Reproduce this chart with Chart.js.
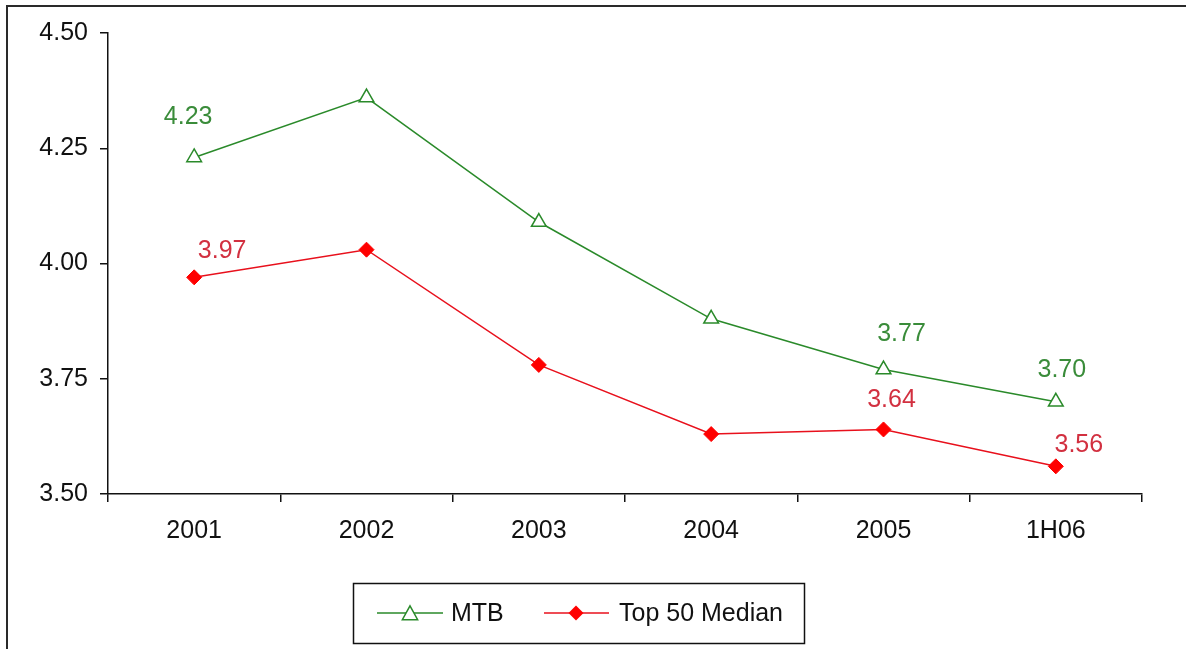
<!DOCTYPE html>
<html>
<head>
<meta charset="utf-8">
<script src="https://cdn.jsdelivr.net/npm/chart.js@4/dist/chart.umd.min.js"></script>
<style>
html,body{margin:0;padding:0;background:#fff;}
#wrap{position:relative;width:1186px;height:649px;}
</style>
</head>
<body>
<div id="wrap"><canvas id="c" width="1186" height="649"></canvas></div>
<script>
// ---- data ----
const categories = ['2001', '2002', '2003', '2004', '2005', '1H06'];
const mtbValues = [4.23, 4.36, 4.09, 3.88, 3.77, 3.70];
const top50Values = [3.97, 4.03, 3.78, 3.63, 3.64, 3.56];
const mtbLabels = ['4.23', null, null, null, '3.77', '3.70'];
const top50Labels = ['3.97', null, null, null, '3.64', '3.56'];
const yTicks = [3.50, 3.75, 4.00, 4.25, 4.50];
const seriesNames = ['MTB', 'Top 50 Median'];

// ---- styles ----
const FONT = "'Liberation Sans', Arial, sans-serif";
const FSIZE = 25;
const GREEN = '#2a8a2a';
const GREEN_TXT = '#3a8c3a';
const RED = '#e8101c';
const RED_TXT = '#d23040';
const AXIS = '#111';

const labelOffsets = [
  [[-6, -41], null, null, null, [18, -36], [6, -33]],
  [[28, -27], null, null, null, [8, -30], [23, -22]]
];

function drawTri(ctx, x, y, r, color) {
  ctx.save();
  ctx.beginPath();
  ctx.moveTo(x, y - r * 0.8);
  ctx.lineTo(x + r * 0.85, y + r * 0.75);
  ctx.lineTo(x - r * 0.85, y + r * 0.75);
  ctx.closePath();
  ctx.fillStyle = '#fff';
  ctx.fill();
  ctx.strokeStyle = color;
  ctx.lineWidth = 1.5;
  ctx.stroke();
  ctx.restore();
}
function drawDiamond(ctx, x, y, r, color) {
  ctx.save();
  ctx.beginPath();
  ctx.moveTo(x, y - r);
  ctx.lineTo(x + r, y);
  ctx.lineTo(x, y + r);
  ctx.lineTo(x - r, y);
  ctx.closePath();
  ctx.fillStyle = color;
  ctx.fill();
  ctx.restore();
}

const framePlugin = {
  id: 'frame',
  beforeDraw(chart) {
    const ctx = chart.ctx;
    ctx.save();
    ctx.fillStyle = '#fff';
    ctx.fillRect(0, 0, chart.width, chart.height);
    ctx.fillStyle = '#2a2a2a';
    ctx.fillRect(6, 5, chart.width - 6, 2);
    ctx.fillRect(6, 5, 2, chart.height - 5);
    ctx.restore();
  }
};

const labelPlugin = {
  id: 'valueLabels',
  afterDatasetsDraw(chart) {
    const ctx = chart.ctx;
    const texts = [mtbLabels, top50Labels];
    const colors = [GREEN_TXT, RED_TXT];
    ctx.save();
    ctx.font = FSIZE + 'px ' + FONT;
    ctx.textAlign = 'center';
    ctx.textBaseline = 'middle';
    chart.data.datasets.forEach((ds, di) => {
      const meta = chart.getDatasetMeta(di);
      meta.data.forEach((pt, i) => {
        const t = texts[di][i];
        if (!t) return;
        const off = labelOffsets[di][i] || [0, -30];
        ctx.fillStyle = colors[di];
        ctx.fillText(t, pt.x + off[0], pt.y + off[1] + 1);
      });
    });
    ctx.restore();
  }
};

const legendPlugin = {
  id: 'boxLegend',
  afterDraw(chart) {
    const ctx = chart.ctx;
    ctx.save();
    ctx.strokeStyle = AXIS;
    ctx.lineWidth = 1.5;
    ctx.strokeRect(353.5, 583.5, 451, 60);
    const cy = 613;
    ctx.strokeStyle = GREEN;
    ctx.lineWidth = 1.5;
    ctx.beginPath(); ctx.moveTo(377, cy); ctx.lineTo(443, cy); ctx.stroke();
    drawTri(ctx, 410, cy, 9, GREEN);
    ctx.strokeStyle = RED;
    ctx.beginPath(); ctx.moveTo(544, cy); ctx.lineTo(609, cy); ctx.stroke();
    drawDiamond(ctx, 576, cy, 7.5, '#ff0000');
    ctx.fillStyle = '#111';
    ctx.font = FSIZE + 'px ' + FONT;
    ctx.textAlign = 'left';
    ctx.textBaseline = 'middle';
    ctx.fillText(seriesNames[0], 451, cy + 1);
    ctx.fillText(seriesNames[1], 619, cy + 1);
    ctx.restore();
  }
};

new Chart(document.getElementById('c'), {
  type: 'line',
  data: {
    labels: categories,
    datasets: [
      {
        label: seriesNames[0],
        data: mtbValues,
        borderColor: GREEN,
        borderWidth: 1.5,
        pointStyle: 'triangle',
        pointRadius: 8.5,
        pointBackgroundColor: '#fff',
        pointBorderColor: GREEN,
        pointBorderWidth: 1.5,
        tension: 0
      },
      {
        label: seriesNames[1],
        data: top50Values,
        borderColor: RED,
        borderWidth: 1.5,
        pointStyle: 'rectRot',
        pointRadius: 7.5,
        pointBackgroundColor: '#ff0000',
        pointBorderColor: '#ff0000',
        pointBorderWidth: 1,
        tension: 0
      }
    ]
  },
  options: {
    responsive: false,
    animation: false,
    devicePixelRatio: 1,
    layout: { padding: { top: 33, right: 44, left: 0, bottom: 0 } },
    plugins: { legend: { display: false }, tooltip: { enabled: false } },
    scales: {
      x: {
        offset: true,
        grid: { offset: true, drawOnChartArea: false, drawTicks: true, tickLength: 8, color: AXIS, lineWidth: 1.5 },
        border: { display: true, color: AXIS, width: 1.5 },
        ticks: { font: { family: FONT, size: FSIZE }, color: '#111', padding: 14, maxRotation: 0, autoSkip: false },
        afterFit(s) { s.height = 155; }
      },
      y: {
        min: 3.5,
        max: 4.5,
        afterBuildTicks(s) { s.ticks = yTicks.map(v => ({ value: v })); },
        grid: { drawOnChartArea: false, drawTicks: true, tickLength: 8, color: AXIS, lineWidth: 1.5 },
        border: { display: true, color: AXIS, width: 1.5 },
        ticks: { font: { family: FONT, size: FSIZE }, color: '#111', padding: 12, callback: v => Number(v).toFixed(2) },
        afterFit(s) { s.width = 108; }
      }
    }
  },
  plugins: [framePlugin, labelPlugin, legendPlugin]
});
</script>
</body>
</html>
